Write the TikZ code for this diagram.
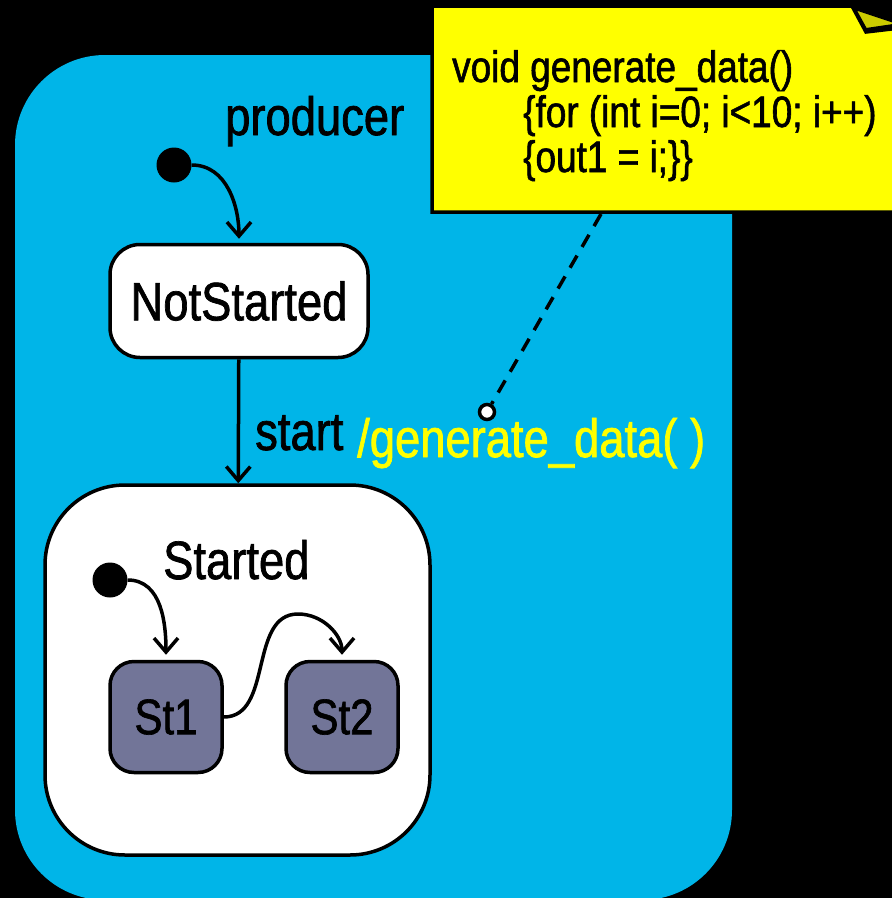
\documentclass[tikz,border=0pt]{standalone}
\usepackage{fontspec}
\setmainfont{Liberation Sans}[FakeStretch=0.84, FakeBold=1.3]
\usetikzlibrary{arrows.meta,positioning}

\definecolor{regioncyan}{RGB}{0,181,232}
\definecolor{stgrey}{RGB}{114,117,152}
\definecolor{noteyellow}{RGB}{255,255,0}
\definecolor{foldolive}{RGB}{204,204,0}

\begin{document}
\begin{tikzpicture}[
    x=1pt, y=-1pt,
    state/.style={draw, line width=3.5pt, fill=white, rounded corners=30pt, font=\fontsize{54}{60}\selectfont},
    superstate/.style={draw, line width=3.5pt, fill=white, rounded corners=80pt, minimum width=385pt, minimum height=370pt},
    leaf/.style={draw, line width=3.5pt, fill=stgrey, rounded corners=24pt, minimum width=112pt, minimum height=111pt, font=\fontsize{50}{56}\selectfont},
    initial/.style={circle, fill=black, inner sep=0pt, minimum size=35pt},
    lbl/.style={inner sep=0pt, anchor=base west, font=\fontsize{54}{60}\selectfont},
    code/.style={inner sep=0pt, anchor=base west, font=\fontsize{44}{48}\selectfont},
    trans/.style={-{Straight Barb[length=14pt,width=24pt]}, line width=3.5pt}
]
\useasboundingbox (0,0) rectangle (892,898);
\fill[black] (0,0) rectangle (892,898);

% the producer region
\fill[regioncyan, rounded corners=90pt] (15,55) rectangle (732,900);
\node[lbl] (producer) at (225,135) {producer};

\node[initial] (init) at (174,165) {};
\node[state, minimum width=258pt, minimum height=113pt] (notstarted) at (239,301) {NotStarted};

% composite state
\node[superstate] (started) at (237.5,670) {};
\node[lbl] (startedlbl) at (163,579) {Started};
\node[initial] (subinit) at (110,580) {};
\node[leaf] (st1) at (166,717) {St1};
\node[leaf] (st2) at (342,717) {St2};
\coordinate (hump) at (298,614);

\draw[trans, shorten >=4pt] (init) to[out=0, in=90] (notstarted.north);
\draw[trans] (notstarted) -- (started);
\node[lbl] (trig) at (255,450) {start};
\node[lbl, text=noteyellow] (effect) at (357,457) {/generate\_data( )};

\draw[trans, shorten >=5pt] (subinit) to[out=0, in=90] (st1.north);
\draw[trans, shorten >=5pt] (st1.east) to[out=0, in=180] (hump) to[out=0, in=90] (st2.north);

% note with folded corner
\filldraw[fill=noteyellow, line width=3.5pt] (432,6) -- (852,6) -- (866,32) -- (900,28) -- (900,212) -- (432,212) -- cycle;
\filldraw[fill=foldolive, line width=2pt] (855,9) -- (866,29) -- (900,24) -- cycle;
\node[code] (codeA) at (452,82) {void generate\_data()};
\node[code] (codeB) at (523,127) {\{for (int i=0; i<10; i++)};
\node[code] (codeC) at (523,172) {\{out1 = i;\}\}};

\coordinate (notefoot) at (601,214);
\node[circle, draw, line width=3.5pt, fill=white, inner sep=0pt, minimum size=15pt] (attach) at (487,412) {};
\draw[line width=3.5pt, dash pattern=on 14pt off 10pt] (notefoot) -- (attach);
\end{tikzpicture}
\end{document}
